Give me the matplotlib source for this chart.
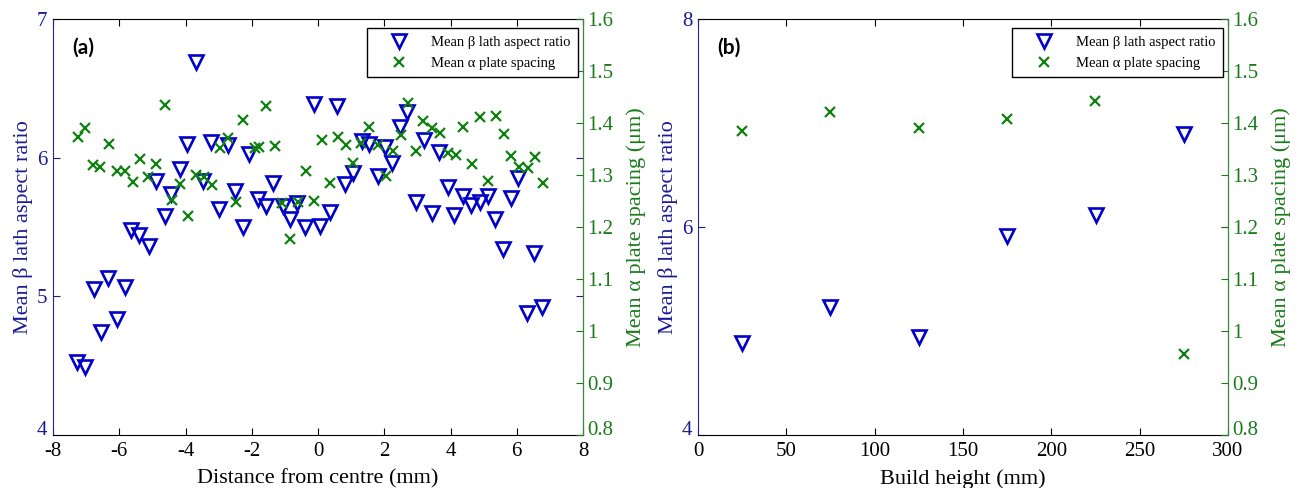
import matplotlib
matplotlib.use('Agg')
import matplotlib.pyplot as plt
import matplotlib.transforms as mtransforms

plt.rcParams['font.family'] = ['Liberation Serif', 'DejaVu Serif']
plt.rcParams['axes.unicode_minus'] = False

# (a) beta lath aspect ratio vs distance from centre
dist_ar = [-7.28, -7.02, -6.77, -6.55, -6.35, -6.06, -5.84, -5.64, -5.39, -5.11,
           -4.89, -4.63, -4.43, -4.18, -3.95, -3.68, -3.48, -3.22, -3.00, -2.72,
           -2.52, -2.27, -2.07, -1.82, -1.56, -1.35, -1.06, -0.86, -0.63, -0.39,
           -0.12, 0.05, 0.35, 0.58, 0.82, 1.05, 1.33, 1.55, 1.81, 2.01,
           2.23, 2.48, 2.70, 2.96, 3.19, 3.45, 3.66, 3.92, 4.12, 4.39,
           4.61, 4.88, 5.12, 5.35, 5.58, 5.82, 6.05, 6.30, 6.53, 6.76]
aspect_ratio = [4.53, 4.49, 5.05, 4.74, 5.13, 4.84, 5.07, 5.48, 5.44, 5.36,
                5.83, 5.58, 5.74, 5.92, 6.10, 6.69, 5.83, 6.11, 5.63, 6.09,
                5.76, 5.50, 6.03, 5.70, 5.65, 5.82, 5.65, 5.56, 5.67, 5.50,
                6.39, 5.51, 5.61, 6.37, 5.81, 5.89, 6.12, 6.10, 5.87, 6.08,
                5.96, 6.22, 6.33, 5.68, 6.13, 5.60, 6.04, 5.79, 5.59, 5.72,
                5.66, 5.68, 5.72, 5.56, 5.34, 5.71, 5.85, 4.88, 5.31, 4.92]

# (a) alpha plate spacing vs distance from centre
dist_sp = [-7.25, -7.02, -6.80, -6.58, -6.32, -6.08, -5.84, -5.59, -5.36, -5.13,
           -4.89, -4.63, -4.41, -4.16, -3.93, -3.67, -3.44, -3.21, -2.96, -2.73,
           -2.48, -2.25, -1.90, -1.79, -1.56, -1.31, -1.09, -0.85, -0.59, -0.37,
           -0.13, 0.13, 0.37, 0.60, 0.84, 1.06, 1.30, 1.55, 1.80, 2.04,
           2.26, 2.51, 2.71, 2.96, 3.18, 3.45, 3.67, 3.92, 4.17, 4.39,
           4.64, 4.89, 5.13, 5.38, 5.60, 5.83, 6.08, 6.33, 6.56, 6.79]
spacing = [1.374, 1.391, 1.320, 1.316, 1.360, 1.308, 1.308, 1.287, 1.331, 1.297,
           1.322, 1.435, 1.252, 1.283, 1.222, 1.300, 1.296, 1.281, 1.352, 1.372,
           1.248, 1.406, 1.351, 1.354, 1.432, 1.356, 1.246, 1.176, 1.249, 1.308,
           1.250, 1.367, 1.284, 1.374, 1.358, 1.324, 1.361, 1.393, 1.358, 1.298,
           1.347, 1.377, 1.438, 1.347, 1.404, 1.390, 1.381, 1.342, 1.338, 1.393,
           1.322, 1.412, 1.289, 1.413, 1.378, 1.337, 1.316, 1.313, 1.334, 1.285]

# (b) vs build height
height = [25, 75, 125, 175, 225, 275]
height_ar = [4.88, 5.23, 4.94, 5.91, 6.12, 6.89]
height_sp = [1.385, 1.421, 1.390, 1.407, 1.442, 0.955]

right_ticks = [0.8, 0.9, 1.0, 1.1, 1.2, 1.3, 1.4, 1.5, 1.6]
right_labels = ['0.8', '0.9', '1', '1.1', '1.2', '1.3', '1.4', '1.5', '1.6']

BLUE = '#0000c8'
BLUE_TXT = '#1a1a96'
GREEN = '#108010'
GREEN_TXT = '#1a7a1a'


def panel(rect, x, ar, xs, sp, xlim, xticks, ylim, yticks, xlabel, tag):
    ax = fig.add_axes(rect)
    ax2 = ax.twinx()
    h1, = ax.plot(x, ar, linestyle='none', marker='v', ms=10, mfc='none',
                  mec=BLUE, mew=1.9, label=u'Mean \u03b2 lath aspect ratio')
    h2, = ax2.plot(xs, sp, linestyle='none', marker='x', ms=6.5,
                   color=GREEN, mew=1.6, label=u'Mean \u03b1 plate spacing')
    ax.set_xlim(xlim)
    ax.set_xticks(xticks)
    ax.set_ylim(ylim)
    ax.set_yticks(yticks)
    ax2.set_ylim(0.8, 1.6)
    ax2.set_yticks(right_ticks)
    ax2.set_yticklabels(right_labels)

    ax.tick_params(axis='x', direction='in', top=True, length=5, labelsize=15,
                   colors='black', pad=5)
    ax.tick_params(axis='y', direction='in', right=True, length=5, labelsize=15,
                   colors=BLUE_TXT, pad=4)
    ax2.tick_params(axis='y', direction='in', left=False, right=True, length=5,
                    labelsize=15, colors=GREEN_TXT, pad=3)

    # bottom y labels sit a little above the corner, as in MATLAB output
    up = mtransforms.ScaledTranslation(0, 5 / 72, fig.dpi_scale_trans)
    for lbl in (ax.get_yticklabels()[0], ax2.get_yticklabels()[0]):
        lbl.set_transform(lbl.get_transform() + up)

    for s in ['top', 'bottom']:
        ax.spines[s].set_color('black')
    ax.spines['left'].set_color('#26268a')
    ax2.spines['right'].set_color('#3a8a3a')
    ax2.spines['left'].set_visible(False)
    ax2.spines['top'].set_visible(False)
    ax2.spines['bottom'].set_visible(False)

    ax.set_xlabel(xlabel, fontsize=16, labelpad=6)
    ax.set_ylabel(u'Mean \u03b2 lath aspect ratio', fontsize=16, color=BLUE_TXT,
                  labelpad=3)
    ax2.set_ylabel(u'Mean \u03b1 plate spacing (\u03bcm)', fontsize=16,
                   color=GREEN_TXT, labelpad=9)

    ax.text(0.036, 0.93, tag, transform=ax.transAxes, fontsize=15,
            fontweight='bold', family=['Lato', 'DejaVu Sans'], va='center')

    leg = ax2.legend(handles=[h1, h2], loc='upper right',
                     bbox_to_anchor=(0.99, 0.978), borderaxespad=0,
                     fontsize=10.5, fancybox=False, framealpha=1,
                     edgecolor='black', handlelength=3.4, handletextpad=0.5,
                     borderpad=0.5, labelspacing=0.55)
    leg.get_frame().set_linewidth(1.0)
    return ax, ax2


fig = plt.figure(figsize=(12.97, 4.88), dpi=100)

panel([53 / 1297, 53 / 488, 530 / 1297, 416 / 488],
      dist_ar, aspect_ratio, dist_sp, spacing,
      (-8, 8), list(range(-8, 9, 2)), (4, 7), [4, 5, 6, 7],
      'Distance from centre (mm)', '(a)')

panel([698 / 1297, 53 / 488, 530 / 1297, 416 / 488],
      height, height_ar, height, height_sp,
      (0, 300), list(range(0, 301, 50)), (4, 8), [4, 6, 8],
      'Build height (mm)', '(b)')

fig.savefig('out.png', dpi=100)
